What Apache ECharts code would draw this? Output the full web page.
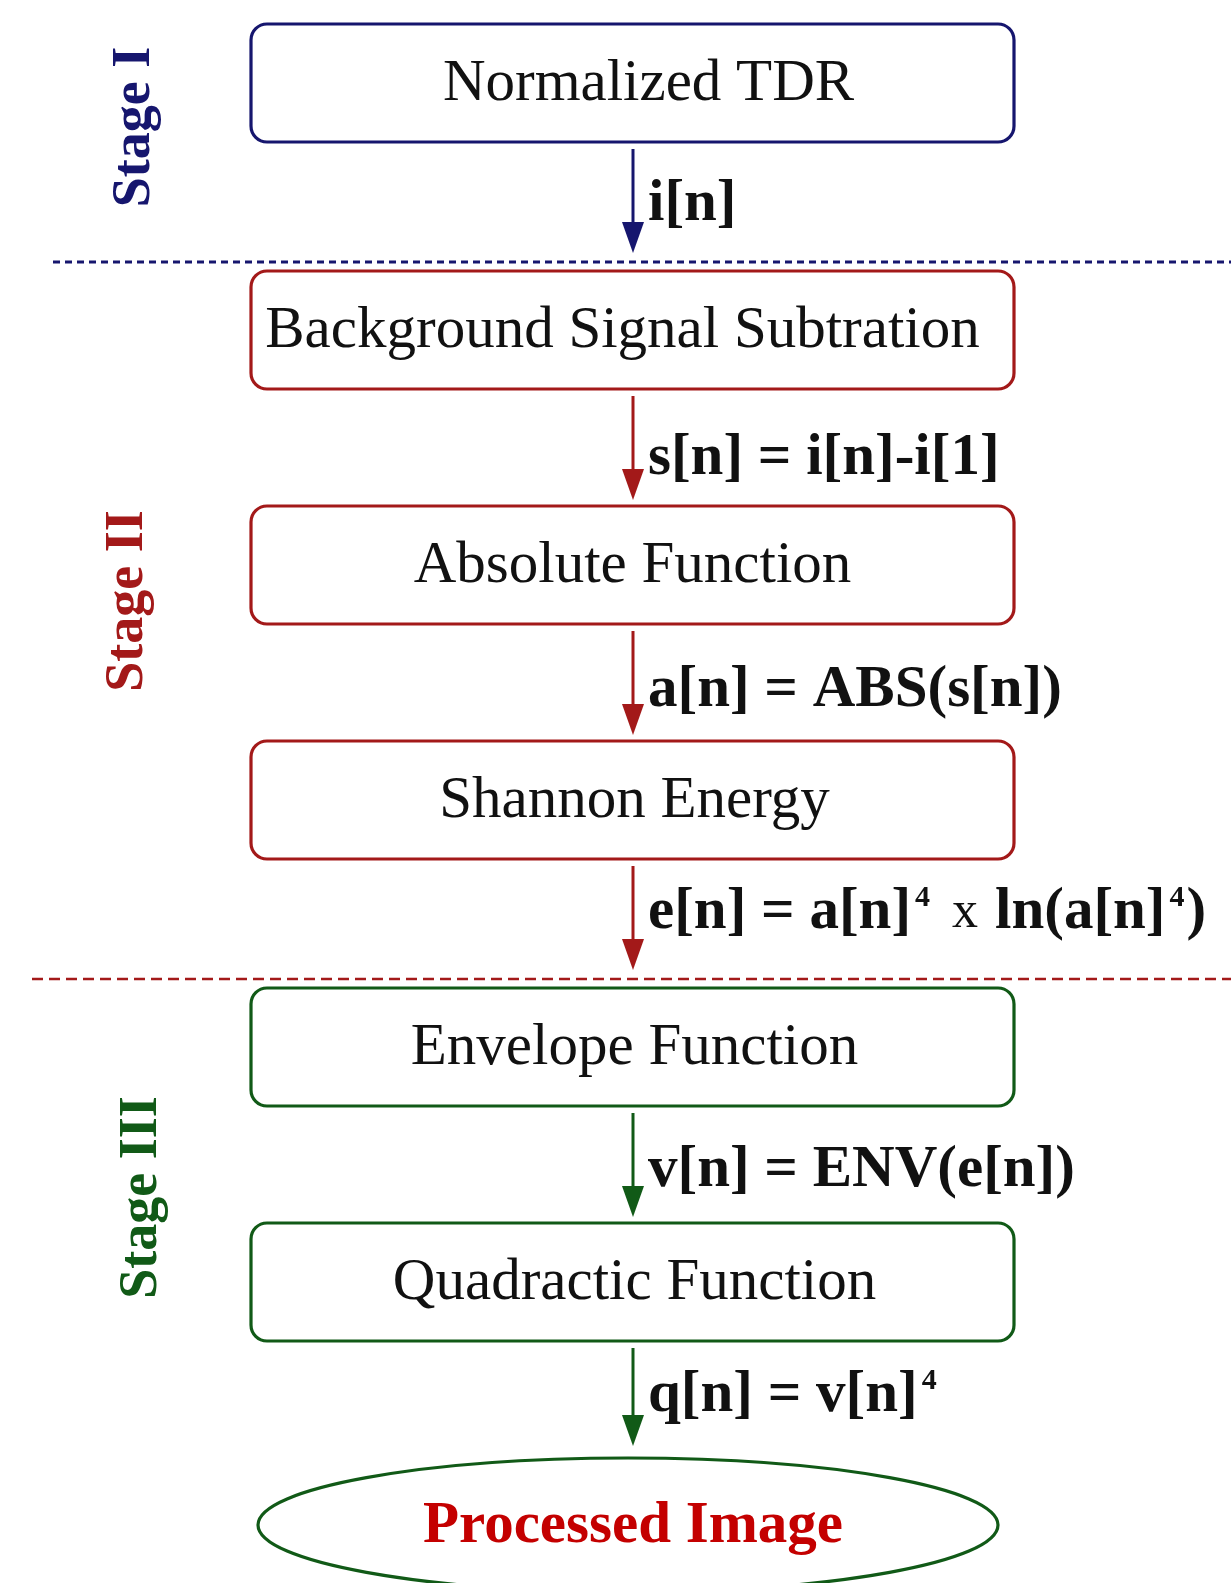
<!DOCTYPE html>
<html><head><meta charset="utf-8">
<script src="https://cdn.jsdelivr.net/npm/echarts@6/dist/echarts.min.js"></script>
<style>html,body{margin:0;padding:0;background:#fff}#c{width:1231px;height:1583px}</style>
</head><body><div id="c"></div>
<script>
// ---- content ----
const stepNames = ['Normalized TDR', 'Background Signal Subtration', 'Absolute Function', 'Shannon Energy', 'Envelope Function', 'Quadractic Function'];
const stepStage = [0, 1, 1, 1, 2, 2];
const finalNode = 'Processed Image';
const edgeLabels = ['i[n]', 's[n] = i[n]-i[1]', 'a[n] = ABS(s[n])', 'e[n] = a[n]{sup|4}{x|x}ln(a[n]{sup|4}){e|}', 'v[n] = ENV(e[n])', 'q[n] = v[n]{sup|4}'];
const stageNames = ['Stage I', 'Stage II', 'Stage III'];
const stageColors = ['#16166e', '#a31919', '#115a17'];

// ---- layout (pixels in a 1231 x 1583 frame) ----
const W = 1231, H = 1583;
const BOX_L = 251, BOX_W = 763, BOX_H = 118, ARROW_X = 633;
const boxTextDx = [16, -10, 0, 2, 2, 2];
const edgeLabelDy = [3, 10, 7, -6, 5, -2];
const stageLabelX = [135, 128, 142];
const stageLabelDy = [44, 36, 33];
const SERIF = '"Liberation Serif", "Times New Roman", serif';
function stageOf(i) { return i < stepStage.length ? stepStage[i] : 2; }
function nodeTop(i) { return 24 + i * 235 + stageOf(i) * 12; }
function nodeBottom(i) { return nodeTop(i) + BOX_H; }

const chart = echarts.init(document.getElementById('c'), null, {renderer: 'canvas'});

function nodeItem(params, api) {
  const i = api.value(0);
  const col = stageColors[stepStage[i]];
  const p = api.coord([BOX_L, nodeTop(i)]);
  const s = api.size([BOX_W, BOX_H]);
  return {
    type: 'group',
    children: [
      {type: 'rect', shape: {x: p[0], y: p[1], width: s[0], height: s[1], r: 16},
       style: {fill: '#fff', stroke: col, lineWidth: 3.2}},
      {type: 'text', x: p[0] + s[0] / 2 + boxTextDx[i], y: p[1] + s[1] / 2 + 1,
       style: {text: stepNames[i], align: 'center', verticalAlign: 'middle',
               font: '59px ' + SERIF, fill: '#111'}}
    ]
  };
}

function edgeItem(params, api) {
  const i = api.value(0);
  const col = stageColors[stepStage[i]];
  const change = i + 1 < stepStage.length && stepStage[i + 1] !== stepStage[i];
  const gap = change ? 18 : (i === stepStage.length - 1 ? 12 : 6);
  const a = api.coord([ARROW_X, nodeBottom(i) + 7]);
  const b = api.coord([ARROW_X, nodeTop(i + 1) - gap]);
  const mid = (a[1] + b[1]) / 2;
  return {
    type: 'group',
    children: [
      {type: 'line', shape: {x1: a[0], y1: a[1], x2: b[0], y2: b[1] - 20},
       style: {stroke: col, lineWidth: 3}},
      {type: 'polygon', shape: {points: [[b[0] - 11, b[1] - 31], [b[0] + 11, b[1] - 31], [b[0], b[1]]]},
       style: {fill: col}},
      {type: 'text', x: a[0] + 15, y: mid + 1 + edgeLabelDy[i],
       style: {text: edgeLabels[i], align: 'left', verticalAlign: 'middle',
               font: 'bold 59px ' + SERIF, fill: '#111',
               rich: {
                 sup: {fontSize: 30, fontWeight: 'bold', fontFamily: SERIF, verticalAlign: 'top', padding: [0, 2, 0, 4]},
                 x: {fontSize: 52, fontWeight: 'normal', fontFamily: SERIF, padding: [0, 17, 0, 20]},
                 e: {fontSize: 10}
               }}}
    ]
  };
}

function sepItem(params, api) {
  const i = api.value(0); // index of node just below separator
  const st = stepStage[i - 1];
  const y = nodeTop(i) - 9;
  const left = st === 0 ? 53 : 32;
  const a = api.coord([left, y]);
  const b = api.coord([W, y]);
  return {type: 'line', shape: {x1: a[0], y1: a[1], x2: b[0], y2: b[1]},
          style: {stroke: stageColors[st], lineWidth: st === 0 ? 3 : 2.5,
                  lineDash: st === 0 ? [7, 5] : [11, 6]}};
}

function stageItem(params, api) {
  const s = api.value(0);
  const idx = stepStage.map((v, k) => v === s ? k : -1).filter(k => k >= 0);
  const yc = (nodeTop(idx[0]) + nodeBottom(idx[idx.length - 1])) / 2 + stageLabelDy[s];
  const p = api.coord([stageLabelX[s], yc]);
  return {type: 'text', x: p[0], y: p[1], rotation: Math.PI / 2,
          style: {text: stageNames[s], align: 'center', verticalAlign: 'middle',
                  font: 'bold 54px ' + SERIF, fill: stageColors[s]}};
}

function finalItem(params, api) {
  const n = stepNames.length;
  const top = nodeTop(n);
  const c = api.coord([628, top + 67]);
  const s = api.size([370, 67]);
  return {
    type: 'group',
    children: [
      {type: 'ellipse', shape: {cx: c[0], cy: c[1], rx: s[0], ry: s[1]},
       style: {fill: '#fff', stroke: stageColors[2], lineWidth: 3.2}},
      {type: 'text', x: c[0] + 5, y: c[1] + 2,
       style: {text: finalNode, align: 'center', verticalAlign: 'middle',
               font: 'bold 59px ' + SERIF, fill: '#c40000'}}
    ]
  };
}

const sepIdx = [];
for (let k = 1; k < stepStage.length; k++) if (stepStage[k] !== stepStage[k - 1]) sepIdx.push([k, 0]);

chart.setOption({
  animation: false,
  backgroundColor: '#fff',
  grid: {left: 0, right: 0, top: 0, bottom: 0},
  xAxis: {type: 'value', min: 0, max: W, show: false},
  yAxis: {type: 'value', min: 0, max: H, inverse: true, show: false},
  series: [
    {type: 'custom', clip: false, renderItem: sepItem, data: sepIdx},
    {type: 'custom', clip: false, renderItem: edgeItem, data: edgeLabels.map((_, i) => [i, 0])},
    {type: 'custom', clip: false, renderItem: nodeItem, data: stepNames.map((_, i) => [i, 0])},
    {type: 'custom', clip: false, renderItem: finalItem, data: [[0, 0]]},
    {type: 'custom', clip: false, renderItem: stageItem, data: stageNames.map((_, i) => [i, 0])}
  ]
});
</script>
</body></html>
